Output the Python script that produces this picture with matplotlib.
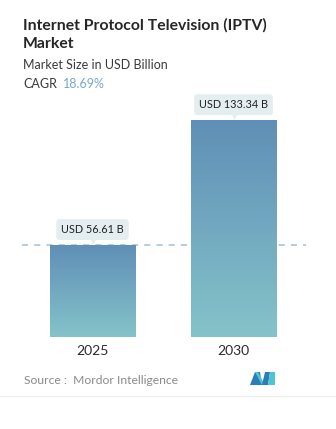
import numpy as np
import matplotlib
matplotlib.use("Agg")
import matplotlib.pyplot as plt
from matplotlib.patches import Polygon
from matplotlib.colors import LinearSegmentedColormap
import matplotlib.transforms as mtransforms

plt.rcParams['font.family'] = ['Lato', 'DejaVu Sans']

# data
years = ["2025", "2030"]
values = [56.61, 133.34]
value_labels = ["USD 56.61 B", "USD 133.34 B"]
cagr = "18.69%"

W, H = 336, 429
fig = plt.figure(figsize=(W / 100, H / 100), dpi=100)
fig.patch.set_facecolor("white")


def px(x, y):
    # pixel coords (from top-left) -> figure fraction
    return x / W, 1 - y / H


# axes area in pixels
ax_l, ax_r, ax_t, ax_b = 22, 306, 95, 337
ax = fig.add_axes([ax_l / W, 1 - ax_b / H, (ax_r - ax_l) / W, (ax_b - ax_t) / H])
ax.set_xlim(-0.5, 1.514)
ax.set_ylim(0, 148.7)
ax.axis("off")

bar_w = 0.603
grad = LinearSegmentedColormap.from_list("g", ["#85c3ca", "#5f8fb6"])
gradient = np.linspace(0, 1, 256).reshape(-1, 1)

bars = ax.bar(range(len(years)), values, width=bar_w, color="none", edgecolor="none")
for b in bars:
    x0, w, h = b.get_x(), b.get_width(), b.get_height()
    im = ax.imshow(gradient, cmap=grad, aspect="auto", origin="lower",
                   extent=[x0, x0 + w, 0, h], zorder=2)
    im.set_clip_path(b)

# dashed reference line at first value (behind the bars)
ax.axhline(values[0], color="#a3bfd5", lw=1.1, dashes=(4, 4), zorder=1)

# value labels with pointer
for i, (v, lab) in enumerate(zip(values, value_labels)):
    ax.annotate(lab, xy=(i, v), xytext=(0, 11), textcoords="offset points",
                ha="center", va="center", fontsize=7.8, color="#222222",
                bbox=dict(boxstyle="round,pad=0.45,rounding_size=0.3",
                          fc="#e4edf0", ec="none"), zorder=5)
    tr = mtransforms.offset_copy(ax.transData, fig=fig, x=0, y=4, units="points")
    ax.plot(i, v, marker="v", ms=6, color="#e4edf0", transform=tr, zorder=5,
            clip_on=False)

# year labels
for i, yr in enumerate(years):
    ax.annotate(yr, xy=(i, 0), xytext=(0, -10), textcoords="offset points",
                ha="center", va="center", fontsize=10, color="#2b2b2b")

# titles
fig.text(*px(23, 25), "Internet Protocol Television (IPTV)", fontsize=11.3,
         fontweight="bold", color="#262626", va="center")
fig.text(*px(23, 44), "Market", fontsize=11.3, fontweight="bold",
         color="#262626", va="center")
fig.text(*px(23, 65), "Market Size in USD Billion", fontsize=9,
         color="#3a3a3a", va="center")
fig.text(*px(23, 84), "CAGR", fontsize=9, color="#3a3a3a", va="center")
fig.text(*px(63, 84), cagr, fontsize=9, color="#7ba7c9", va="center")

# source
fig.text(*px(24, 381), "Source :  Mordor Intelligence", fontsize=8.7,
         color="#8a8a8a", va="center")

# logo
logo = [
    ([(250, 385), (255, 372), (260, 372), (262, 385)], "#2d7eb5"),
    ([(255, 372), (262, 385), (265, 385), (258, 372)], "#4cc6d2"),
    ([(262, 385), (265, 372), (270, 372), (268, 385)], "#2d7eb5"),
    ([(268, 385), (270, 372), (275, 372), (275, 385)], "#4cc6d2"),
]
for pts, c in logo:
    fig.patches.append(Polygon([px(x, y) for x, y in pts], closed=True,
                               transform=fig.transFigure, fc=c, ec="none"))

# separator
fig.add_artist(plt.Line2D([0, 1], [1 - 396 / H] * 2, color="#eeeeee", lw=1))

fig.savefig("out.png", dpi=100, facecolor="white")
